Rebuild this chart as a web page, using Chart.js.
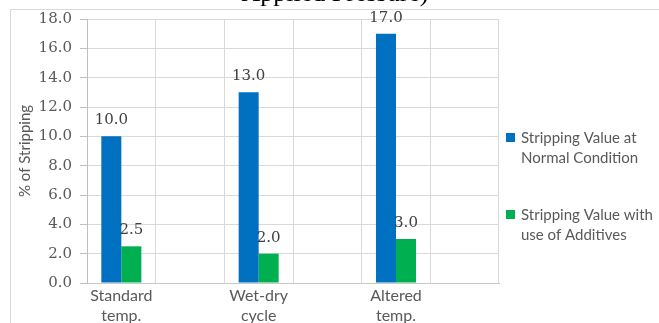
<!DOCTYPE html>
<html>
<head>
<meta charset="utf-8">
<script src="https://cdn.jsdelivr.net/npm/chart.js@4/dist/chart.umd.min.js"></script>
<style>
  html, body { margin: 0; padding: 0; background: #ffffff; }
  #wrap { width: 659px; height: 323px; position: relative; }
</style>
</head>
<body>
<div id="wrap"><canvas id="chart" width="659" height="323"></canvas></div>
<script>
// Test conditions (every other slot is left empty to space the groups out)
const categories = [
  ['Standard', 'temp.'], '',
  ['Wet-dry', 'cycle'], '',
  ['Altered', 'temp.'], ''
];
const normalValues   = [10.0, null, 13.0, null, 17.0, null];
const additiveValues = [2.5, null, 2.0, null, 3.0, null];
const seriesNames = [
  ['Stripping Value at', 'Normal Condition'],
  ['Stripping Value with', 'use of Additives']
];
const yTicks = [0, 2, 4, 6, 8, 10, 12, 14, 16, 18];
const titleText = 'Applied Pressure)';
const yTitle = '% of Stripping';

const BLUE = '#0070C0';
const GREEN = '#00B050';

// Frame around the chart and the tail of the heading
const framePlugin = {
  id: 'frame',
  beforeDraw(chart) {
    const ctx = chart.ctx;
    ctx.save();
    ctx.fillStyle = '#ffffff';
    ctx.fillRect(0, 0, chart.width, chart.height);
    ctx.strokeStyle = '#d9d9d9';
    ctx.lineWidth = 1;
    ctx.beginPath();
    ctx.moveTo(10.5, chart.height);
    ctx.lineTo(10.5, 9.5);
    ctx.lineTo(chart.width, 9.5);
    ctx.stroke();
    ctx.fillStyle = '#000000';
    ctx.font = '26px "Liberation Serif"';
    ctx.textAlign = 'center';
    ctx.textBaseline = 'alphabetic';
    ctx.fillText(titleText, 335, 1);
    ctx.restore();
  }
};

// Value labels above each bar
const valueLabelPlugin = {
  id: 'valueLabels',
  afterDatasetsDraw(chart) {
    const ctx = chart.ctx;
    ctx.save();
    ctx.font = '15px "DejaVu Serif"';
    ctx.fillStyle = '#404040';
    ctx.textAlign = 'center';
    ctx.textBaseline = 'alphabetic';
    chart.data.datasets.forEach((ds, di) => {
      const meta = chart.getDatasetMeta(di);
      meta.data.forEach((bar, i) => {
        const v = ds.data[i];
        if (v === null || v === undefined) return;
        ctx.fillText(v.toFixed(1), bar.x, bar.y - 12);
      });
    });
    ctx.restore();
  }
};

// Legend on the right with two-line entries
const sideLegendPlugin = {
  id: 'sideLegend',
  afterDraw(chart) {
    const ctx = chart.ctx;
    const x0 = chart.chartArea.right + 7;
    const tops = [133, 210];
    ctx.save();
    ctx.font = '15px Lato';
    ctx.textAlign = 'left';
    ctx.textBaseline = 'middle';
    chart.data.datasets.forEach((ds, di) => {
      const top = tops[di];
      ctx.fillStyle = ds.backgroundColor;
      ctx.fillRect(x0, top, 9, 9);
      ctx.fillStyle = '#595959';
      seriesNames[di].forEach((line, li) => {
        ctx.fillText(line, x0 + 15, top + 5 + li * 20);
      });
    });
    ctx.restore();
  }
};

new Chart(document.getElementById('chart'), {
  type: 'bar',
  data: {
    labels: categories,
    datasets: [
      {
        label: seriesNames[0].join(' '),
        data: normalValues,
        backgroundColor: BLUE,
        categoryPercentage: 0.583,
        barPercentage: 1.0
      },
      {
        label: seriesNames[1].join(' '),
        data: additiveValues,
        backgroundColor: GREEN,
        categoryPercentage: 0.583,
        barPercentage: 1.0
      }
    ]
  },
  options: {
    responsive: false,
    animation: false,
    layout: { padding: { top: 19, right: 160, bottom: 0, left: 0 } },
    plugins: {
      legend: { display: false },
      title: { display: false },
      tooltip: { enabled: false }
    },
    scales: {
      x: {
        offset: true,
        grid: { display: true, offset: true, color: '#d9d9d9', drawTicks: false },
        border: { display: true, color: '#c8c8c8' },
        ticks: {
          autoSkip: false,
          maxRotation: 0,
          padding: 3,
          color: '#595959',
          font: { family: 'Lato', size: 16, lineHeight: 1.25 }
        },
        afterFit(scale) { scale.height = 40; }
      },
      y: {
        min: 0,
        max: 18,
        afterBuildTicks(scale) { scale.ticks = yTicks.map(v => ({ value: v })); },
        grid: { color: '#d9d9d9', tickColor: '#bfbfbf', tickLength: 7, drawTicks: true },
        border: { display: true, color: '#bfbfbf' },
        ticks: {
          padding: 8,
          color: '#595959',
          font: { family: 'DejaVu Serif', size: 15 },
          callback: v => Number(v).toFixed(1)
        },
        title: {
          display: true,
          text: yTitle,
          color: '#595959',
          font: { family: 'Lato', size: 15, lineHeight: 1.2 },
          padding: { top: 16, bottom: 0 }
        },
        afterFit(scale) { scale.width = 87; }
      }
    }
  },
  plugins: [framePlugin, valueLabelPlugin, sideLegendPlugin]
});
</script>
</body>
</html>
